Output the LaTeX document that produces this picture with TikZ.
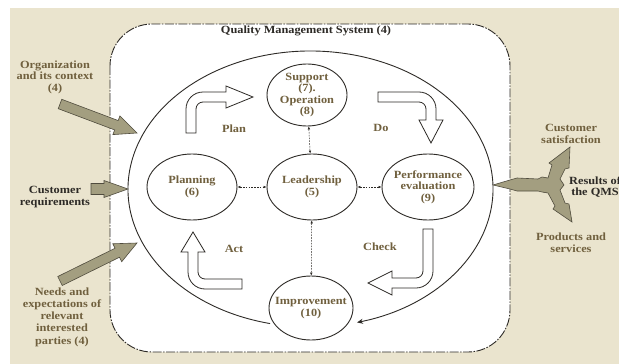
\documentclass[tikz,border=0pt]{standalone}
\usepackage{fontspec}
\setmainfont{Liberation Serif}[FakeStretch=1.12]
\usetikzlibrary{arrows.meta,calc,shapes.geometric}

\definecolor{paper}{RGB}{234,228,206}
\definecolor{labelbrown}{RGB}{112,96,62}
\definecolor{inkdark}{RGB}{45,42,38}
\definecolor{olivefill}{RGB}{163,158,128}
\definecolor{oliveline}{RGB}{80,76,62}

% broad input arrow from a tail coordinate to a tip coordinate:
% #3 shaft half-width, #4 head half-width, #5 head length
\newcommand\olivearrow[5]{%
  \path[fatarrow] let \p1=($(#2)-(#1)$), \n1={atan2(\y1,\x1)}, \n2={veclen(\x1,\y1)} in
    [shift={(#1)}, rotate=\n1]
    (0,-#3) -- ({\n2-#5},-#3) -- ({\n2-#5},-#4) -- (\n2,0) -- ({\n2-#5},#4) -- ({\n2-#5},#3) -- (0,#3) -- cycle;}

\begin{document}
\begin{tikzpicture}[x=1pt,y=-1pt,
  lbl/.style={font=\bfseries\fontsize{11}{11.6}\selectfont, align=center, inner sep=0pt, text=labelbrown},
  darklbl/.style={lbl, text=inkdark},
  stage/.style={ellipse, draw=inkdark, line width=0.9pt, fill=white, inner sep=0pt},
  link/.style={inkdark, line width=0.5pt, dash pattern=on 1.6pt off 1.2pt,
    {Latex[length=3pt,width=2.6pt]}-{Latex[length=3pt,width=2.6pt]}},
  cyclearrow/.style={draw=inkdark, line width=0.8pt, fill=white, line join=miter},
  fatarrow/.style={draw=oliveline, line width=0.6pt, fill=olivefill, line join=miter},
]
\useasboundingbox (0,0) rectangle (619,364);
\clip (0,0) rectangle (619,364);
\fill[white] (0,0) rectangle (619,364);
\fill[paper] (10,8) rectangle (619,364);

% system boundary
\draw[inkdark, line width=0.9pt, fill=white, rounded corners=42pt,
  dash pattern=on 9pt off 1.5pt on 1.5pt off 1.5pt] (110,24) rectangle (510,352);
\node[darklbl] (qms) at (306,31) {Quality Management System (4)};

% PDCA ring
\coordinate (ringc) at (310.5,189);
\coordinate (ringstart) at ($(ringc)+(102.8:182.5 and 138)$);
\draw[inkdark, line width=0.9pt, -{Stealth[length=6pt,width=5pt]}]
  (ringstart) arc[start angle=102.8, end angle=435.24, x radius=182.5, y radius=138];

% clauses
\node[stage, minimum width=80pt, minimum height=62pt] (support) at (307,95) {};
\node[stage, minimum width=90pt, minimum height=66pt] (planning) at (192,187) {};
\node[stage, minimum width=90pt, minimum height=66pt] (lead) at (312,187) {};
\node[stage, minimum width=92pt, minimum height=66pt] (perf) at (428,187) {};
\node[stage, minimum width=84pt, minimum height=64pt] (impr) at (311,308) {};

\node[lbl, font=\bfseries\fontsize{11}{11.3}\selectfont] at (support) {Support\\(7).\\Operation\\(8)};
\node[lbl] at (planning) {Planning\\(6)};
\node[lbl] at (lead) {Leadership\\(5)};
\node[lbl] at (perf) {Performance\\evaluation\\(9)};
\node[lbl] at (impr) {Improvement\\(10)};

\draw[link] (support) -- (lead);
\draw[link] (planning) -- (lead);
\draw[link] (lead) -- (perf);
\draw[link] (lead) -- (impr);

% bent cycle arrows
\draw[cyclearrow] (186,133) -- (186,109) arc[start angle=180, end angle=270, radius=17]
  -- (226,92) -- (226,86) -- (253,97) -- (226,108) -- (226,102) -- (203,102)
  arc[start angle=270, end angle=180, radius=7] -- (196,133) -- cycle;
\draw[cyclearrow] (378,92) -- (419,92) arc[start angle=270, end angle=360, radius=17]
  -- (436,120) -- (443,120) -- (431,143) -- (419,120) -- (426,120) -- (426,109)
  arc[start angle=0, end angle=-90, radius=7] -- (378,102) -- cycle;
\draw[cyclearrow] (423,229) -- (433,229) -- (433,271) arc[start angle=0, end angle=90, radius=17]
  -- (392,288) -- (392,295) -- (368,283) -- (392,271) -- (392,278) -- (416,278)
  arc[start angle=90, end angle=0, radius=7] -- cycle;
\draw[cyclearrow] (242,279) -- (205,279) arc[start angle=90, end angle=180, radius=7]
  -- (198,252) -- (205,252) -- (193,232) -- (181,252) -- (188,252) -- (188,272)
  arc[start angle=180, end angle=90, radius=17] -- (242,289) -- cycle;

\node[lbl] at (234,129) {Plan};
\node[lbl] at (381,128) {Do};
\node[lbl] at (234,249) {Act};
\node[lbl] at (380,247) {Check};

% inputs
\node[lbl] (orgtxt) at (55,77) {Organization\\and its context\\(4)};
\node[darklbl] (custreq) at (55,197) {Customer\\requirements};
\node[lbl, font=\bfseries\fontsize{11}{12.2}\selectfont] (needs) at (62,317)
  {Needs and\\expectations of\\relevant\\interested\\parties (4)};

\coordinate (orgTail) at (60,104);  \coordinate (orgTip) at (137,133);
\coordinate (reqTail) at (91,189);  \coordinate (reqTip) at (128,189);
\coordinate (needTail) at (60,281); \coordinate (needTip) at (137,243);
\olivearrow{orgTail}{orgTip}{5}{10}{22}
\olivearrow{reqTail}{reqTip}{5.5}{8.5}{24}
\olivearrow{needTail}{needTip}{5}{10}{22}

% outputs
\node[lbl] (sat) at (571,134) {Customer\\satisfaction};
\node[lbl] (prod) at (571,243) {Products and\\services};
\node[darklbl, anchor=west] (results) at (569,187) {Results of\\the QMS};

\draw[fatarrow] (493,185) -- (510,180) -- (517,178) -- (538,179) -- (542,177) -- (548,178)
  -- (552,165) -- (549,163) -- (570,147) -- (569,168) -- (565,169) -- (560,179)
  -- (564,185) -- (560,190) -- (565,203) -- (569,204) -- (572,222) -- (553,209)
  -- (555,206) -- (548,193) -- (542,192) -- (538,191) -- (517,191) -- (510,189) -- cycle;
\end{tikzpicture}
\end{document}
